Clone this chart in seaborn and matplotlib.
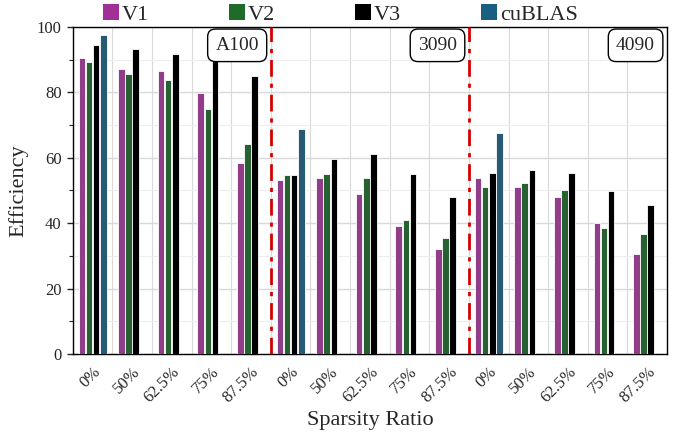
import matplotlib
matplotlib.use("Agg")
import matplotlib.pyplot as plt
from matplotlib.patches import Patch
from matplotlib.ticker import MultipleLocator, FixedLocator
import seaborn as sns
import pandas as pd

gpus = ["A100", "3090", "4090"]
ratios = ["0%", "50%", "62.5%", "75%", "87.5%"]
methods = ["V1", "V2", "V3", "cuBLAS"]

v1_a100 = [90.6, 87.3, 86.4, 79.9, 58.5]
v2_a100 = [89.2, 85.5, 83.9, 74.9, 64.3]
v3_a100 = [94.4, 93.2, 91.6, 91.0, 85.0]
v1_3090 = [53.3, 53.9, 49.0, 39.1, 32.1]
v2_3090 = [54.6, 54.9, 53.9, 41.1, 35.4]
v3_3090 = [54.6, 59.6, 61.2, 55.1, 48.0]
v1_4090 = [53.8, 51.2, 48.0, 40.2, 30.5]
v2_4090 = [51.0, 52.4, 50.3, 38.4, 36.7]
v3_4090 = [55.4, 56.3, 55.5, 49.9, 45.7]
cublas = {"A100": 97.6, "3090": 68.9, "4090": 67.7}

colors = {"V1": "#A02F96", "V2": "#1E6B2A", "V3": "#000000", "cuBLAS": "#1A5F82"}

series = {
    "A100": {"V1": v1_a100, "V2": v2_a100, "V3": v3_a100},
    "3090": {"V1": v1_3090, "V2": v2_3090, "V3": v3_3090},
    "4090": {"V1": v1_4090, "V2": v2_4090, "V3": v3_4090},
}

rows = []
order = []
for g in gpus:
    for i, r in enumerate(ratios):
        key = f"{g}|{r}"
        order.append(key)
        for m in ["V1", "V2", "V3"]:
            rows.append({"cat": key, "method": m, "eff": series[g][m][i]})
        if r == "0%":
            rows.append({"cat": key, "method": "cuBLAS", "eff": cublas[g]})
df = pd.DataFrame(rows)

sns.set_style("white")
plt.rcParams["font.family"] = ["Liberation Serif", "DejaVu Serif"]
plt.rcParams["mathtext.fontset"] = "stix"

fig = plt.figure(figsize=(6.81, 4.32), dpi=100)
ax = fig.add_axes([0.1068, 0.1806, 0.8726, 0.7569])

sns.barplot(data=df, x="cat", y="eff", hue="method", order=order,
            hue_order=methods, palette=colors, width=0.72, gap=0.08,
            edgecolor="white", linewidth=0.6, ax=ax, legend=False, zorder=3)

ax.set_xlim(-0.5, 14.5)
ax.set_ylim(0, 100)

# x ticks: labels at group centers, tick marks at boundaries
ax.xaxis.set_major_locator(FixedLocator(range(15)))
ax.set_xticklabels([c.split("|")[1] for c in order], rotation=45,
                   ha="right", rotation_mode="anchor", fontsize=12)
ax.xaxis.set_minor_locator(FixedLocator([i - 0.5 for i in range(16)]))
ax.tick_params(axis="x", which="major", length=0, pad=7)
ax.tick_params(axis="x", which="minor", length=4, width=1, direction="out", color="black")

ax.yaxis.set_major_locator(MultipleLocator(20))
ax.yaxis.set_minor_locator(MultipleLocator(10))
ax.tick_params(axis="y", which="major", length=4, width=1, direction="out", labelsize=12, left=True, pad=4)
ax.tick_params(axis="y", which="minor", length=3, width=0.8, direction="out", left=True)

ax.grid(False)
ax.grid(axis="y", which="major", color="#D9D9D9", linewidth=1.0, zorder=0)
ax.grid(axis="y", which="minor", color="#EDEDED", linewidth=0.8, zorder=0)
ax.grid(axis="x", which="minor", color="#D9D9D9", linewidth=0.8, zorder=0)
ax.set_axisbelow(True)

for s in ax.spines.values():
    s.set_visible(True)
    s.set_color("black")
    s.set_linewidth(1.0)

for xb in [4.5, 9.5]:
    ax.axvline(xb, color="#D40000", linestyle=(0, (6, 2.5, 1.5, 2.5)), linewidth=2, zorder=4)

for gi, g in enumerate(gpus):
    ax.text(gi * 5 + 4.2, 97.0, g, ha="right", va="top", fontsize=14, zorder=6,
            bbox=dict(boxstyle="round,pad=0.4,rounding_size=0.4", fc="white", ec="black", lw=1.0))

ax.set_xlabel("Sparsity Ratio", fontsize=16, labelpad=4)
ax.set_ylabel("Efficiency", fontsize=16, labelpad=6)

handles = [Patch(facecolor=colors[m], edgecolor="none", label=m) for m in methods]
fig.legend(handles=handles, loc="center", bbox_to_anchor=(0.5, 0.966), ncol=4,
           frameon=False, fontsize=16, handlelength=0.7, handleheight=0.7,
           handletextpad=0.15, columnspacing=3.6, borderpad=0.1)

fig.savefig("out.png", dpi=100)
